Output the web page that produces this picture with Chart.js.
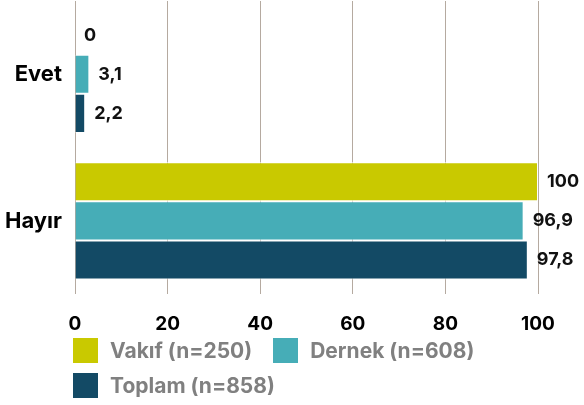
<!DOCTYPE html>
<html>
<head>
<meta charset="utf-8">
<script src="https://cdn.jsdelivr.net/npm/chart.js@4"></script>
<style>
  html, body { margin: 0; padding: 0; background: #fff; }
  #wrap { position: relative; width: 584px; height: 405px; }
  #legend {
    position: absolute; left: 73px; top: 338px; width: 440px;
    display: flex; flex-wrap: wrap; row-gap: 10px; column-gap: 21px;
    font-family: Inter, sans-serif; font-weight: 700; font-size: 21px; color: #808080;
  }
  .item { display: flex; align-items: center; height: 25px; white-space: nowrap; }
  .swatch { width: 25px; height: 25px; margin-right: 12px; flex: none; }
</style>
</head>
<body>
<div id="wrap">
  <canvas id="c" width="584" height="405"></canvas>
  <div id="legend"></div>
</div>
<script>
// Survey answers (%) by organisation type
const categories = ['Evet', 'Hayır'];
const vakif = [0, 100];
const dernek = [3.1, 96.9];
const toplam = [2.2, 97.8];
const seriesNames = ['Vakıf (n=250)', 'Dernek (n=608)', 'Toplam (n=858)'];
const xTicks = [0, 20, 40, 60, 80, 100];
const colors = ['#c9c900', '#46adb7', '#134a65'];

const FONT = 'Inter, sans-serif';

// Writes each bar's value (decimal comma) just past the bar end
const valueLabels = {
  id: 'valueLabels',
  afterDatasetsDraw(chart) {
    const ctx = chart.ctx;
    ctx.save();
    ctx.font = '700 18px ' + FONT;
    ctx.fillStyle = '#111';
    ctx.textAlign = 'left';
    ctx.textBaseline = 'middle';
    chart.data.datasets.forEach((ds, i) => {
      chart.getDatasetMeta(i).data.forEach((bar, j) => {
        ctx.fillText(String(ds.data[j]).replace('.', ','), bar.x + 9, bar.y);
      });
    });
    ctx.restore();
  }
};

const seriesData = [vakif, dernek, toplam];

const chart = new Chart(document.getElementById('c'), {
  type: 'bar',
  data: {
    labels: categories,
    datasets: seriesData.map((d, i) => ({
      label: seriesNames[i],
      data: d,
      backgroundColor: colors[i],
      borderColor: '#ffffff',
      borderWidth: 1,
      barPercentage: 1,
      categoryPercentage: 0.8
    }))
  },
  options: {
    indexAxis: 'y',
    responsive: false,
    animation: false,
    layout: { padding: { top: 1, right: 46, bottom: 50, left: 0 } },
    plugins: {
      legend: { display: false },
      tooltip: { enabled: false }
    },
    scales: {
      x: {
        min: 0, max: 100,
        afterBuildTicks: s => { s.ticks = xTicks.map(v => ({ value: v })); },
        grid: { color: '#b5aaa0', lineWidth: 1, drawTicks: false },
        border: { display: false },
        ticks: { color: '#000', font: { family: FONT, weight: '700', size: 19 }, padding: 19 }
      },
      y: {
        grid: { display: false, drawTicks: false },
        border: { display: false },
        afterFit: s => { s.width = 75; s.paddingTop = 0; s.paddingBottom = 0; },
        ticks: { color: '#000', font: { family: FONT, weight: '700', size: 22 }, padding: 13 }
      }
    }
  },
  plugins: [valueLabels]
});

// Legend built from the chart's datasets
const legend = document.getElementById('legend');
chart.data.datasets.forEach(ds => {
  const item = document.createElement('div');
  item.className = 'item';
  const sw = document.createElement('span');
  sw.className = 'swatch';
  sw.style.background = ds.backgroundColor;
  const tx = document.createElement('span');
  tx.textContent = ds.label;
  item.appendChild(sw);
  item.appendChild(tx);
  legend.appendChild(item);
});
</script>
</body>
</html>
